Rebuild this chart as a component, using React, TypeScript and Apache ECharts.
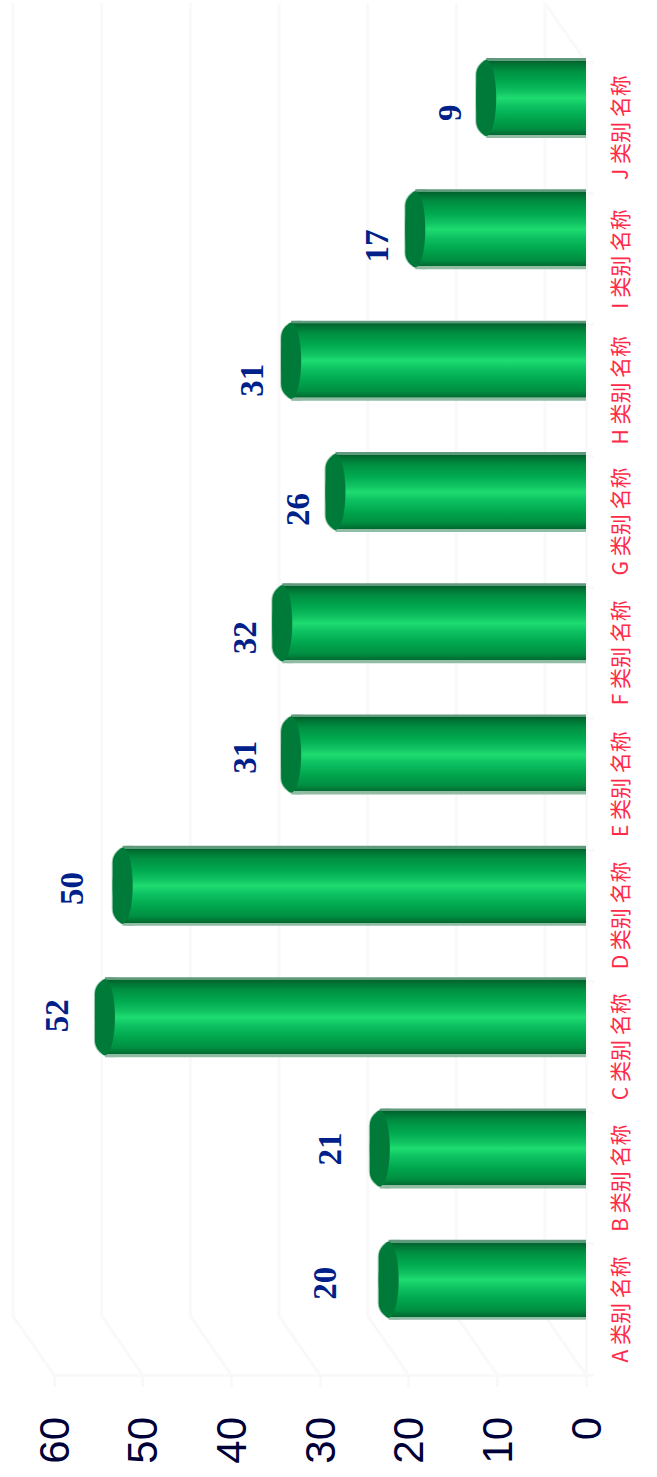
import React, { useEffect, useRef } from "react";
import * as echarts from "echarts";

const categories = ["A 类别 名称", "B 类别 名称", "C 类别 名称", "D 类别 名称", "E 类别 名称", "F 类别 名称", "G 类别 名称", "H 类别 名称", "I 类别 名称", "J 类别 名称"];
const values = [20, 21, 52, 50, 31, 32, 26, 31, 17, 9];
const valueTicks = [0, 10, 20, 30, 40, 50, 60];

// drawing offsets of the value labels, relative to the bar end
const labelShiftX = [-84, -70, -68, -71, -66, -57, -57, -59, -58, -56];
const labelShiftY = [-26, -29, -31, -27, -27, -15, -12, -10, -13, -15];

const WALL_DX = 41;
const WALL_DY = 59;
const BAR_DX = 20;
const BAR_DY = 29.6;
const BAR_H = 80;
const CAP_RX = 10;
const GRID_COLOR = "#f9f9f9";
const CAP_COLOR = "#007a38";

const bodyGradient = {
  type: "linear", x: 0, y: 0, x2: 0, y2: 1,
  colorStops: [
    { offset: 0, color: "#5f9a7c" },
    { offset: 0.035, color: "#5f9a7c" },
    { offset: 0.036, color: "#00622c" },
    { offset: 0.08, color: "#007434" },
    { offset: 0.16, color: "#008f42" },
    { offset: 0.3, color: "#00a94f" },
    { offset: 0.42, color: "#10c262" },
    { offset: 0.5, color: "#1edc70" },
    { offset: 0.6, color: "#0dc262" },
    { offset: 0.75, color: "#00a64d" },
    { offset: 0.88, color: "#008f42" },
    { offset: 0.96, color: "#006a30" },
    { offset: 0.961, color: "#8fbca3" },
    { offset: 1, color: "#8fbca3" },
  ],
};

export default function App() {
  const ref = useRef<HTMLDivElement>(null);
  useEffect(() => {
    const chart = echarts.init(ref.current!, null, { renderer: "svg" });
    chart.setOption({
      animation: false,
      backgroundColor: "#ffffff",
      grid: { left: 54, right: 71, top: 62, bottom: 102 },
      xAxis: {
        type: "value",
        inverse: true,
        min: 0,
        max: 60,
        interval: 10,
        position: "bottom",
        splitLine: { show: false },
        axisLine: { show: true, lineStyle: { color: GRID_COLOR, width: 3 } },
        axisTick: { show: true, length: 12, lineStyle: { color: GRID_COLOR, width: 3 } },
        axisLabel: {
          rotate: 90,
          margin: 42,
          color: "#000038",
          fontSize: 42,
          fontFamily: "Liberation Sans",
          formatter: (v: number) => String(v),
        },
      },
      yAxis: {
        type: "category",
        position: "right",
        data: categories,
        axisLine: { show: true, lineStyle: { color: GRID_COLOR, width: 3 } },
        axisTick: { show: true, length: 8, lineStyle: { color: GRID_COLOR, width: 3 } },
        axisLabel: {
          interval: 0,
          rotate: 90,
          margin: 22,
          color: "#ff2a48",
          fontSize: 21,
          fontFamily: "Noto Sans CJK SC",
        },
      },
      series: [
        {
          type: "custom",
          silent: true,
          z: 1,
          data: valueTicks.map((v) => [v, 0]),
          encode: { x: 0, y: 1 },
          renderItem: (params: any, api: any) => {
            const cs = params.coordSys;
            const x = api.coord([api.value(0), 0])[0];
            const bottom = cs.y + cs.height;
            const children: any[] = [
              {
                type: "polyline",
                shape: { points: [[x, bottom], [x - WALL_DX, bottom - WALL_DY], [x - WALL_DX, cs.y - WALL_DY]] },
                style: { stroke: GRID_COLOR, lineWidth: 3, fill: "none" },
              },
            ];
            if (api.value(0) === 0) {
              children.push({
                type: "line",
                shape: { x1: x, y1: cs.y, x2: x - WALL_DX, y2: cs.y - WALL_DY },
                style: { stroke: GRID_COLOR, lineWidth: 3 },
              });
            }
            return { type: "group", children };
          },
        },
        {
          type: "custom",
          silent: true,
          z: 3,
          data: values.map((v, i) => [v, i]),
          encode: { x: 0, y: 1 },
          renderItem: (params: any, api: any) => {
            const v = api.value(0);
            const i = api.value(1);
            const end = api.coord([v, i]);
            const zero = api.coord([0, i]);
            const capX = end[0] - BAR_DX;
            const cy = end[1] - BAR_DY;
            return {
              type: "group",
              children: [
                {
                  type: "rect",
                  shape: { x: capX - CAP_RX, y: cy - BAR_H / 2 + 1, width: 2 * CAP_RX, height: BAR_H - 2, r: [16, 0, 0, 16] },
                  style: { fill: CAP_COLOR, stroke: "rgba(0,122,56,0.35)", lineWidth: 2 },
                },
                {
                  type: "rect",
                  shape: { x: capX, y: cy - BAR_H / 2, width: zero[0] - capX, height: BAR_H },
                  style: { fill: bodyGradient },
                },
                {
                  type: "ellipse",
                  shape: { cx: capX, cy, rx: CAP_RX, ry: BAR_H / 2 - 2 },
                  style: { fill: CAP_COLOR },
                },
                {
                  type: "text",
                  x: end[0] + labelShiftX[i],
                  y: end[1] + labelShiftY[i],
                  rotation: Math.PI / 2,
                  style: {
                    text: String(v),
                    fill: "#00208a",
                    font: "bold 33px 'Liberation Serif'",
                    align: "center",
                    verticalAlign: "middle",
                  },
                },
              ],
            };
          },
        },
      ],
    });
    return () => chart.dispose();
  }, []);
  return <div ref={ref} style={{ position: "fixed", left: 0, top: 0, width: 657, height: 1477 }} />;
}
